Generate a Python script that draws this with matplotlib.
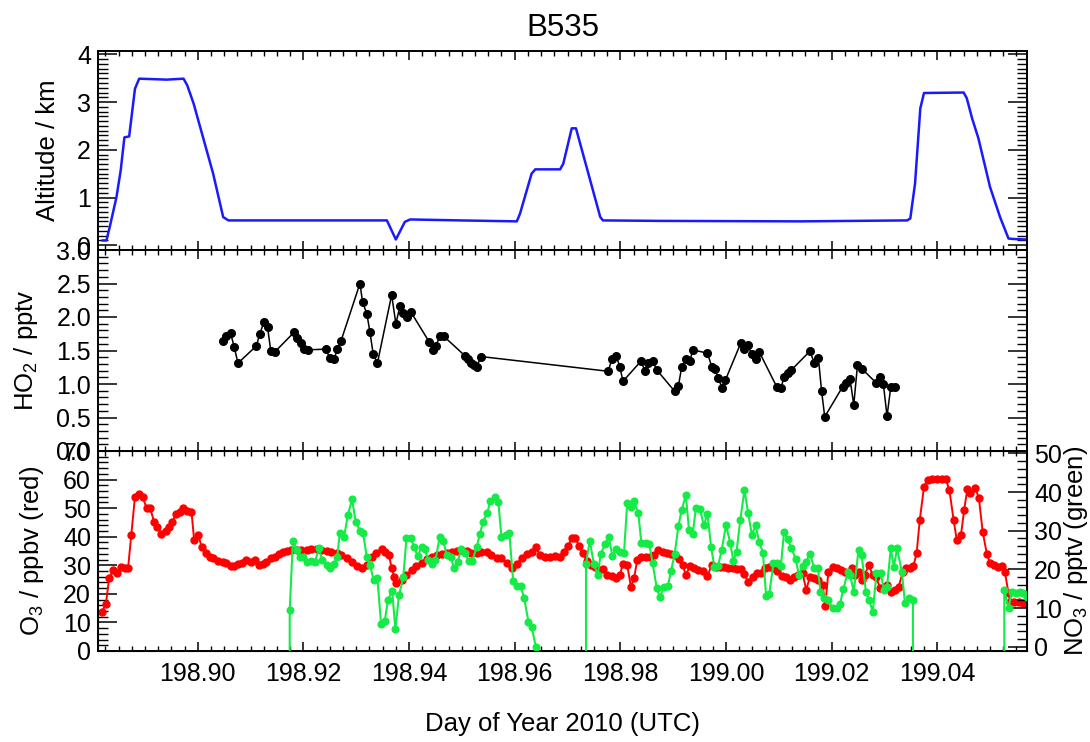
"""
B535 flight summary: altitude, HO2, and O3 / NO3 against day of year.
Three stacked panels sharing the time axis, written to out.png.
"""

import matplotlib

matplotlib.use("Agg")
import matplotlib.pyplot as plt
from matplotlib.ticker import FormatStrFormatter, MultipleLocator

plt.rcParams["font.family"] = ["Liberation Sans", "DejaVu Sans"]
plt.rcParams["mathtext.fontset"] = "custom"
plt.rcParams["mathtext.rm"] = "Liberation Sans"
plt.rcParams["mathtext.default"] = "regular"

FILL = -999.0  # NO3 missing-data flag, falls below the axis

# --- altitude (km) ---------------------------------------------------------
alt_doy = [
    198.8820, 198.8827, 198.8834, 198.8846, 198.8854, 198.8861, 198.8870, 198.8881,
    198.8889, 198.8941, 198.8973, 198.8980, 198.8992, 198.9029, 198.9048, 198.9058,
    198.9307, 198.9358, 198.9375, 198.9392, 198.9402, 198.9497, 198.9604, 198.9610,
    198.9632, 198.9639, 198.9686, 198.9692, 198.9708, 198.9716, 198.9762, 198.9767,
    198.9875, 199.0141, 199.0343, 199.0349, 199.0358, 199.0368, 199.0375, 199.0450,
    199.0456, 199.0466, 199.0478, 199.0500, 199.0519, 199.0535, 199.0545, 199.0570,
]
alt_km = [
    0.10, 0.10, 0.42, 1.01, 1.57, 2.26, 2.28, 3.28,
    3.49, 3.47, 3.49, 3.35, 2.97, 1.50, 0.59, 0.52,
    0.52, 0.52, 0.12, 0.49, 0.54, 0.52, 0.50, 0.66,
    1.50, 1.59, 1.59, 1.71, 2.45, 2.45, 0.59, 0.52,
    0.51, 0.50, 0.52, 0.56, 1.29, 2.87, 3.19, 3.20,
    3.08, 2.66, 2.24, 1.22, 0.59, 0.14, 0.13, 0.12,
]

# --- HO2 (pptv) ------------------------------------------------------------
ho2_doy = [
    198.9048, 198.9054, 198.9062, 198.9069, 198.9076, 198.9111, 198.9117, 198.9125, 198.9132, 198.9138,
    198.9146, 198.9182, 198.9188, 198.9195, 198.9201, 198.9209, 198.9242, 198.9250, 198.9258, 198.9264,
    198.9271, 198.9307, 198.9312, 198.9320, 198.9326, 198.9332, 198.9340, 198.9367, 198.9375, 198.9383,
    198.9389, 198.9396, 198.9403, 198.9438, 198.9445, 198.9451, 198.9458, 198.9466, 198.9506, 198.9512,
    198.9518, 198.9523, 198.9528, 198.9536, 198.9777, 198.9784, 198.9792, 198.9799, 198.9805, 198.9839,
    198.9847, 198.9853, 198.9861, 198.9869, 198.9903, 198.9910, 198.9916, 198.9924, 198.9932, 198.9937,
    198.9965, 198.9973, 198.9979, 198.9985, 198.9993, 198.9999, 199.0028, 199.0034, 199.0041, 199.0049,
    199.0056, 199.0063, 199.0096, 199.0104, 199.0110, 199.0117, 199.0124, 199.0159, 199.0167, 199.0175,
    199.0181, 199.0187, 199.0221, 199.0227, 199.0235, 199.0242, 199.0249, 199.0257, 199.0284, 199.0292,
    199.0298, 199.0305, 199.0312, 199.0320,
]
ho2_pptv = [
    1.64, 1.71, 1.76, 1.55, 1.31, 1.57, 1.74, 1.92, 1.85, 1.50,
    1.48, 1.77, 1.68, 1.61, 1.52, 1.51, 1.52, 1.39, 1.37, 1.52,
    1.64, 2.50, 2.22, 2.05, 1.77, 1.45, 1.31, 2.33, 1.90, 2.17,
    2.06, 2.00, 2.08, 1.63, 1.51, 1.57, 1.71, 1.71, 1.42, 1.37,
    1.32, 1.29, 1.25, 1.41, 1.19, 1.37, 1.42, 1.26, 1.04, 1.34,
    1.19, 1.31, 1.35, 1.21, 0.89, 0.97, 1.25, 1.37, 1.35, 1.51,
    1.46, 1.26, 1.23, 1.09, 0.94, 1.06, 1.61, 1.52, 1.58, 1.45,
    1.38, 1.48, 0.96, 0.94, 1.10, 1.17, 1.21, 1.49, 1.32, 1.39,
    0.90, 0.51, 0.96, 1.02, 1.07, 0.69, 1.28, 1.23, 1.02, 1.11,
    1.00, 0.52, 0.95, 0.95,
]

# --- O3 (ppbv) -------------------------------------------------------------
o3_doy = [
    198.8819, 198.8826, 198.8832, 198.8840, 198.8847, 198.8854, 198.8862, 198.8868, 198.8874, 198.8881,
    198.8889, 198.8896, 198.8903, 198.8910, 198.8917, 198.8923, 198.8931, 198.8939, 198.8946, 198.8952,
    198.8958, 198.8966, 198.8972, 198.8980, 198.8988, 198.8993, 198.9001, 198.9007, 198.9015, 198.9023,
    198.9029, 198.9038, 198.9047, 198.9054, 198.9062, 198.9069, 198.9076, 198.9084, 198.9092, 198.9100,
    198.9108, 198.9116, 198.9124, 198.9130, 198.9138, 198.9146, 198.9154, 198.9162, 198.9169, 198.9177,
    198.9187, 198.9196, 198.9206, 198.9215, 198.9225, 198.9234, 198.9244, 198.9253, 198.9263, 198.9272,
    198.9282, 198.9291, 198.9301, 198.9310, 198.9320, 198.9329, 198.9338, 198.9348, 198.9354, 198.9362,
    198.9367, 198.9372, 198.9376, 198.9386, 198.9395, 198.9405, 198.9414, 198.9424, 198.9433, 198.9443,
    198.9452, 198.9462, 198.9471, 198.9481, 198.9490, 198.9499, 198.9509, 198.9518, 198.9528, 198.9537,
    198.9547, 198.9556, 198.9566, 198.9575, 198.9585, 198.9594, 198.9604, 198.9613, 198.9623, 198.9632,
    198.9640, 198.9648, 198.9657, 198.9667, 198.9676, 198.9686, 198.9693, 198.9701, 198.9708, 198.9715,
    198.9722, 198.9729, 198.9736, 198.9744, 198.9752, 198.9760, 198.9768, 198.9775, 198.9784, 198.9792,
    198.9799, 198.9805, 198.9813, 198.9820, 198.9826, 198.9832, 198.9840, 198.9848, 198.9856, 198.9864,
    198.9872, 198.9880, 198.9888, 198.9895, 198.9903, 198.9912, 198.9918, 198.9924, 198.9932, 198.9939,
    198.9948, 198.9956, 198.9965, 198.9973, 198.9981, 198.9989, 198.9996, 199.0004, 199.0013, 199.0020,
    199.0028, 199.0034, 199.0042, 199.0051, 199.0058, 199.0066, 199.0074, 199.0082, 199.0090, 199.0097,
    199.0106, 199.0114, 199.0121, 199.0129, 199.0137, 199.0145, 199.0152, 199.0159, 199.0167, 199.0175,
    199.0183, 199.0188, 199.0194, 199.0202, 199.0210, 199.0217, 199.0225, 199.0238, 199.0244, 199.0251,
    199.0257, 199.0263, 199.0270, 199.0278, 199.0284, 199.0292, 199.0299, 199.0305, 199.0312, 199.0320,
    199.0327, 199.0335, 199.0341, 199.0348, 199.0355, 199.0361, 199.0367, 199.0375, 199.0383, 199.0390,
    199.0399, 199.0409, 199.0416, 199.0423, 199.0431, 199.0437, 199.0445, 199.0451, 199.0457, 199.0463,
    199.0472, 199.0479, 199.0486, 199.0494, 199.0500, 199.0508, 199.0516, 199.0522, 199.0528, 199.0535,
    199.0538, 199.0545, 199.0554, 199.0562, 199.0570,
]
o3_ppbv = [
    13.8, 16.5, 25.4, 28.4, 27.4, 29.5, 28.9, 29.1, 40.6, 54.0,
    55.0, 53.8, 49.9, 49.9, 45.3, 43.3, 41.0, 42.1, 43.3, 45.3,
    47.8, 48.8, 49.9, 49.1, 48.8, 38.9, 40.6, 36.5, 34.2, 33.0,
    32.4, 31.6, 31.3, 30.7, 29.9, 29.9, 30.5, 30.9, 31.9, 31.3,
    31.9, 30.1, 30.5, 31.3, 32.4, 33.0, 33.8, 34.8, 35.1, 35.4,
    35.4, 35.4, 35.4, 35.6, 35.6, 35.4, 35.1, 34.8, 34.2, 33.6,
    32.4, 31.3, 29.8, 28.9, 30.1, 33.0, 34.4, 35.6, 34.8, 33.6,
    28.9, 26.0, 23.7, 24.9, 26.6, 28.4, 29.8, 30.9, 32.1, 33.0,
    33.6, 34.0, 34.4, 34.8, 35.1, 35.4, 35.1, 34.4, 34.2, 34.8,
    34.8, 33.6, 32.4, 32.4, 30.9, 28.9, 30.5, 32.4, 34.0, 34.8,
    36.3, 33.6, 33.0, 32.8, 33.3, 32.8, 34.8, 36.8, 39.4, 39.4,
    36.8, 34.2, 31.6, 30.1, 29.5, 28.4, 28.6, 26.6, 26.3, 25.4,
    26.6, 30.5, 30.1, 22.5, 25.4, 31.9, 33.0, 33.0, 32.8, 33.6,
    35.4, 34.8, 34.4, 34.0, 33.6, 32.1, 30.1, 26.6, 29.8, 28.9,
    28.4, 28.1, 26.3, 30.1, 29.5, 29.5, 29.3, 28.9, 28.9, 28.6,
    28.6, 27.0, 24.3, 26.0, 27.4, 27.4, 28.9, 29.3, 28.9, 28.1,
    26.3, 26.0, 24.9, 25.8, 26.6, 27.2, 21.4, 26.0, 25.4, 24.9,
    23.1, 15.8, 27.8, 29.5, 28.9, 28.4, 27.8, 28.9, 26.6, 27.8,
    24.9, 26.6, 30.1, 26.6, 26.0, 21.9, 22.5, 23.1, 20.8, 21.4,
    22.5, 27.8, 28.9, 28.9, 29.8, 34.2, 45.9, 57.5, 59.9, 60.1,
    60.1, 60.1, 60.1, 56.4, 45.9, 38.9, 40.6, 49.4, 56.6, 55.2,
    57.2, 53.4, 41.8, 34.0, 30.9, 30.1, 29.5, 29.8, 27.8, 20.2,
    17.3, 17.3, 17.3, 16.7, 16.5,
]

# --- NO3 (pptv), FILL marks gaps ------------------------------------------
no3_doy = [
    198.9173, 198.9174, 198.9180, 198.9187, 198.9193, 198.9199, 198.9207, 198.9214, 198.9222, 198.9229,
    198.9236, 198.9244, 198.9250, 198.9258, 198.9264, 198.9269, 198.9277, 198.9284, 198.9292, 198.9299,
    198.9307, 198.9313, 198.9320, 198.9326, 198.9333, 198.9340, 198.9347, 198.9354, 198.9360, 198.9368,
    198.9374, 198.9381, 198.9389, 198.9395, 198.9403, 198.9410, 198.9416, 198.9424, 198.9430, 198.9436,
    198.9444, 198.9450, 198.9458, 198.9465, 198.9471, 198.9479, 198.9485, 198.9492, 198.9499, 198.9506,
    198.9513, 198.9520, 198.9528, 198.9534, 198.9540, 198.9548, 198.9554, 198.9563, 198.9569, 198.9575,
    198.9583, 198.9590, 198.9597, 198.9604, 198.9611, 198.9618, 198.9626, 198.9632, 198.9640, 198.9641,
    198.9734, 198.9735, 198.9742, 198.9750, 198.9757, 198.9763, 198.9771, 198.9778, 198.9785, 198.9792,
    198.9799, 198.9807, 198.9813, 198.9820, 198.9826, 198.9834, 198.9840, 198.9848, 198.9855, 198.9861,
    198.9869, 198.9875, 198.9883, 198.9890, 198.9896, 198.9903, 198.9910, 198.9916, 198.9924, 198.9930,
    198.9937, 198.9943, 198.9951, 198.9958, 198.9965, 198.9972, 198.9978, 198.9985, 198.9992, 199.0000,
    199.0008, 199.0014, 199.0020, 199.0027, 199.0035, 199.0042, 199.0049, 199.0056, 199.0063, 199.0070,
    199.0076, 199.0082, 199.0090, 199.0097, 199.0104, 199.0110, 199.0117, 199.0124, 199.0132, 199.0138,
    199.0145, 199.0152, 199.0159, 199.0167, 199.0174, 199.0179, 199.0186, 199.0194, 199.0202, 199.0210,
    199.0216, 199.0222, 199.0231, 199.0235, 199.0242, 199.0251, 199.0257, 199.0265, 199.0271, 199.0278,
    199.0285, 199.0293, 199.0299, 199.0305, 199.0312, 199.0318, 199.0324, 199.0333, 199.0339, 199.0347,
    199.0354, 199.0355, 199.0526, 199.0527, 199.0535, 199.0541, 199.0549, 199.0556, 199.0563, 199.0570,
]
no3_pptv = [
    FILL, 9.5, 27.3, 25.0, 23.1, 23.1, 22.0, 22.2, 22.0, 25.4,
    22.4, 21.1, 20.4, 21.4, 23.3, 29.5, 28.4, 34.0, 38.1, 32.3,
    30.0, 29.3, 23.1, 21.1, 17.2, 17.7, 5.8, 6.7, 12.1, 14.5,
    4.5, 13.4, 17.9, 28.0, 28.0, 25.8, 23.4, 25.8, 25.2, 22.4,
    21.5, 22.4, 28.4, 27.4, 23.7, 23.3, 20.3, 22.0, 25.2, 24.3,
    22.2, 22.2, 25.8, 29.1, 32.3, 34.6, 37.6, 38.8, 37.5, 28.3,
    28.9, 29.3, 17.1, 15.8, 15.8, 12.5, 6.5, 5.2, 0.0, FILL,
    FILL, 21.4, 27.4, 21.4, 18.5, 24.0, 26.5, 28.4, 23.4, 25.2,
    24.5, 24.3, 37.1, 36.2, 37.6, 34.5, 26.7, 26.7, 26.5, 21.7,
    15.1, 12.9, 15.5, 15.7, 19.6, 24.1, 31.2, 35.3, 39.2, 30.2,
    29.1, 35.8, 35.5, 31.4, 34.3, 25.7, 20.7, 20.9, 25.0, 31.4,
    26.9, 22.2, 24.5, 32.7, 40.5, 34.6, 28.9, 31.4, 27.1, 24.3,
    13.1, 13.6, 21.7, 21.7, 20.9, 29.7, 27.8, 25.4, 22.8, 18.5,
    20.9, 22.0, 24.1, 20.3, 20.3, 14.2, 12.5, 12.1, 9.9, 9.9,
    11.0, 14.8, 19.4, 18.5, 14.2, 25.0, 23.7, 14.2, 12.1, 9.0,
    19.0, 19.1, 14.7, 15.5, 25.4, 20.7, 25.4, 19.4, 11.2, 12.5,
    12.2, FILL, FILL, 14.7, 9.9, 14.2, 14.0, 14.2, 13.8, 12.9,
]

XLIM = (198.8811, 199.0570)
TICK_SIZE = 18
LABEL_SIZE = 18.5


def style_axes(ax, ymajor, yminor, right=True):
    ax.set_xlim(*XLIM)
    ax.xaxis.set_major_locator(MultipleLocator(0.02))
    ax.xaxis.set_minor_locator(MultipleLocator(0.0025))
    ax.yaxis.set_major_locator(MultipleLocator(ymajor))
    ax.yaxis.set_minor_locator(MultipleLocator(yminor))
    ax.tick_params(axis="x", which="major", direction="in", length=6.5, width=1.1,
                   top=True, bottom=True, labelsize=TICK_SIZE, pad=8)
    ax.tick_params(axis="x", which="minor", direction="in", length=3.3, width=1.0,
                   top=True, bottom=True)
    ax.tick_params(axis="y", which="major", direction="in", length=13.5, width=1.1,
                   right=right, labelsize=TICK_SIZE, pad=5)
    ax.tick_params(axis="y", which="minor", direction="in", length=7.5, width=1.0,
                   right=right)
    for spine in ax.spines.values():
        spine.set_linewidth(1.4)


def main() -> None:
    fig = plt.figure(figsize=(10.9, 7.42), dpi=100)
    left, width = 98 / 1090, 929 / 742 * 742 / 1090
    ax_alt = fig.add_axes([left, 1 - 250 / 742, width, 199 / 742])
    ax_ho2 = fig.add_axes([left, 1 - 451 / 742, width, 201 / 742])
    ax_o3 = fig.add_axes([left, 1 - 651 / 742, width, 200 / 742])

    ax_alt.plot(alt_doy, alt_km, color="#1a1aff", lw=1.8)
    style_axes(ax_alt, 1, 0.1)
    ax_alt.set_ylim(-0.1, 4.07)
    ax_alt.tick_params(axis="x", labelbottom=False)
    ax_alt.set_ylabel("Altitude / km", fontsize=LABEL_SIZE)
    ax_alt.yaxis.set_label_coords(-0.041, 0.5)

    ax_ho2.plot(ho2_doy, ho2_pptv, color="black", lw=1.1, marker="o", ms=5.5)
    style_axes(ax_ho2, 0.5, 0.1)
    ax_ho2.set_ylim(0, 3.0)
    ax_ho2.yaxis.set_major_formatter(FormatStrFormatter("%.1f"))
    ax_ho2.tick_params(axis="x", labelbottom=False)
    ax_ho2.set_ylabel("HO$_2$ / pptv", fontsize=LABEL_SIZE)
    ax_ho2.yaxis.set_label_coords(-0.062, 0.5)

    ax_o3.plot(o3_doy, o3_ppbv, color="#ff0000", lw=1.4, marker="o", ms=5)
    style_axes(ax_o3, 10, 2, right=False)
    ax_o3.set_ylim(0, 70)
    ax_o3.xaxis.set_major_formatter(FormatStrFormatter("%.2f"))
    ax_o3.set_ylabel("O$_3$ / ppbv (red)", fontsize=LABEL_SIZE)
    ax_o3.yaxis.set_label_coords(-0.056, 0.5)

    ax_no3 = ax_o3.twinx()
    ax_no3.plot(no3_doy, no3_pptv, color="#14eb46", lw=1.5, marker="o", ms=4.8)
    ax_no3.set_xlim(*XLIM)
    ax_no3.set_ylim(-1.1, 50.6)
    ax_no3.yaxis.set_major_locator(MultipleLocator(10))
    ax_no3.yaxis.set_minor_locator(MultipleLocator(2))
    ax_no3.tick_params(axis="y", which="major", direction="in", length=13.5, width=1.1,
                       labelsize=TICK_SIZE, pad=5)
    ax_no3.tick_params(axis="y", which="minor", direction="in", length=7.5, width=1.0)
    ax_no3.set_ylabel("NO$_3$ / pptv (green)", fontsize=LABEL_SIZE)
    ax_no3.yaxis.set_label_coords(1.0377, 0.5)

    fig.text(563 / 1090, 1 - 36 / 742, "B535", ha="center", va="baseline", fontsize=22.5)
    fig.text(563 / 1090, 1 - 731 / 742, "Day of Year 2010 (UTC)", ha="center",
             va="baseline", fontsize=LABEL_SIZE)

    fig.savefig("out.png", dpi=100)


if __name__ == "__main__":
    main()
